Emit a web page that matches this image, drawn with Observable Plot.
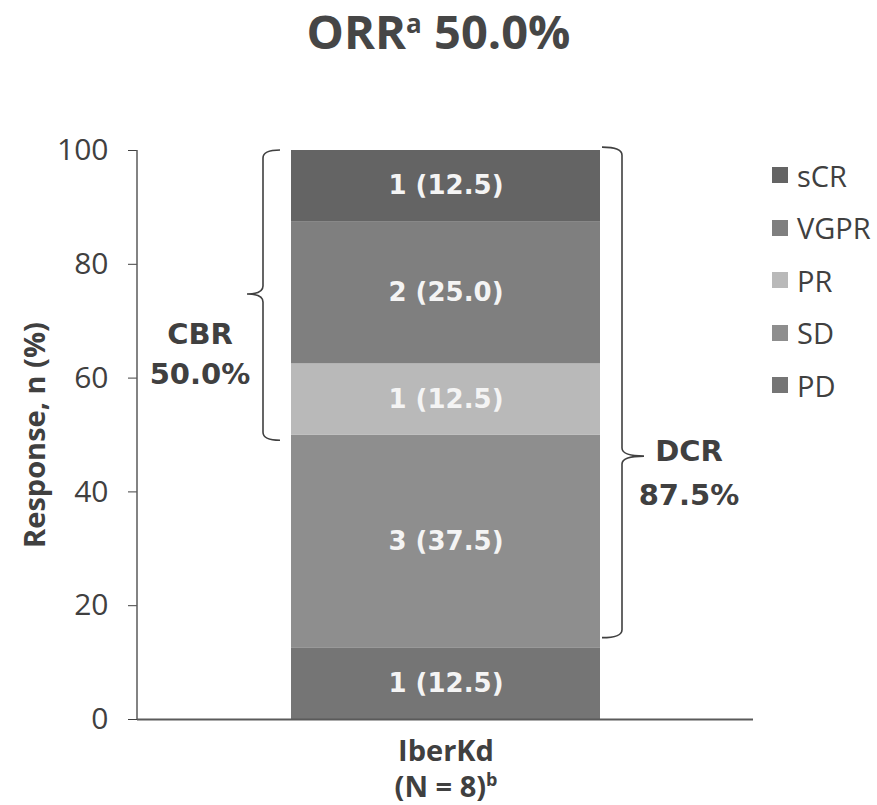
<!DOCTYPE html>
<html>
<head>
<meta charset="utf-8">
<script src="https://cdn.jsdelivr.net/npm/d3@7"></script>
<script src="https://cdn.jsdelivr.net/npm/@observablehq/plot@0.6"></script>
<style>
  body { margin: 0; background: #fff; }
  #wrap { position: relative; width: 877px; height: 805px; font-family: "Open Sans", sans-serif; color: #404040; }
  #title { position: absolute; top: 0; left: 0; width: 877px; height: 80px; text-align: center;
           font-weight: 700; font-size: 47px; line-height: 62px; color: #464646; }
  #title sup { font-size: 26px; vertical-align: 0; position: relative; top: -16px; }
  #chart { position: absolute; top: 80px; left: 0; }
  #legend { position: absolute; left: 772px; top: 149px; }
  .item { display: flex; align-items: center; height: 52.5px; font-size: 29px; color: #404040; }
  .sw { width: 16px; height: 16px; margin-right: 9px; }
</style>
</head>
<body>
<div id="wrap">
  <div id="title"></div>
  <div id="chart"></div>
  <div id="legend"></div>
</div>
<script>
// ---- data ----
const arm = "IberKd";
const armLines = ["IberKd", "(N = 8)"];
const armSup = "b";
const responses = ["PD", "SD", "PR", "VGPR", "sCR"];      // stacked bottom -> top
const counts = [1, 3, 1, 2, 1];
const percents = [12.5, 37.5, 12.5, 25.0, 12.5];
const colors = ["#757575", "#8e8e8e", "#b9b9b9", "#7f7f7f", "#646464"];
const legendOrder = ["sCR", "VGPR", "PR", "SD", "PD"];
const yTicks = [0, 20, 40, 60, 80, 100];
const titleMain = "ORR";
const titleSup = "a";
const titleValue = "50.0%";
const yLabel = "Response, n (%)";
// brackets
const braceSide = ["left", "right"];
const braceText = ["CBR\n50.0%", "DCR\n87.5%"];
const braceLow = [49, 14.3];
const braceHigh = [100, 100.5];
const braceTip = [74.7, 46.2];
const braceLabelY = [64.3, 43.3];

// ---- title ----
document.getElementById("title").innerHTML =
  `${titleMain}<sup>${titleSup}</sup> ${titleValue}`;

// ---- legend ----
const legend = document.getElementById("legend");
for (const r of legendOrder) {
  const it = document.createElement("div");
  it.className = "item";
  const sw = document.createElement("div");
  sw.className = "sw";
  sw.style.background = colors[responses.indexOf(r)];
  const lb = document.createElement("span");
  lb.textContent = r;
  it.appendChild(sw); it.appendChild(lb);
  legend.appendChild(it);
}

const data = responses.map((r, i) => ({arm, response: r, n: counts[i], pct: percents[i]}));
const braces = braceSide.map((s, i) => ({side: s, text: braceText[i], lo: braceLow[i], hi: braceHigh[i], tip: braceTip[i], ly: braceLabelY[i]}));

const ink = "#404040";

function bracesMark(index, scales, values, dimensions) {
  const x = scales.x, y = scales.y;
  const bw = typeof x.bandwidth === "function" ? x.bandwidth() : 309;
  const bl = x(arm), br = bl + bw;
  const g = d3.create("svg:g");
  // y axis line
  g.append("line")
    .attr("x1", dimensions.marginLeft).attr("x2", dimensions.marginLeft)
    .attr("y1", y(0)).attr("y2", y(100))
    .attr("stroke", "#5a5a5a").attr("stroke-width", 1.5);
  for (const b of braces) {
    const left = b.side === "left";
    const vx = left ? bl - 28 : br + 22;
    const hx = left ? bl - 11 : br + 2;
    const tx = left ? bl - 44 : br + 44;
    const yt = y(b.hi), yb = y(b.lo), ym = y(b.tip);
    const r = 8;
    const p = d3.path();
    p.moveTo(hx, yt);
    p.quadraticCurveTo(vx, yt, vx, yt + r);
    p.lineTo(vx, ym - r);
    p.quadraticCurveTo(vx, ym, tx, ym);
    p.moveTo(tx, ym);
    p.quadraticCurveTo(vx, ym, vx, ym + r);
    p.lineTo(vx, yb - r);
    p.quadraticCurveTo(vx, yb, hx, yb);
    g.append("path").attr("d", p.toString()).attr("fill", "none")
      .attr("stroke", ink).attr("stroke-width", 1.6);
    const cx = left ? bl - 91 : br + 89;
    const lines = b.text.split("\n");
    const t = g.append("text")
      .attr("text-anchor", "middle")
      .attr("font-family", "'DejaVu Sans', sans-serif")
      .attr("font-weight", "bold").attr("font-size", 29)
      .attr("fill", ink);
    lines.forEach((ln, i) => {
      t.append("tspan").attr("x", cx)
        .attr("y", y(b.ly) + (i - (lines.length - 1) / 2) * (left ? 40 : 44))
        .attr("dy", "0.36em").text(ln);
    });
  }
  return g.node();
}

const chart = Plot.plot({
  width: 877,
  height: 725,
  marginTop: 70,
  marginBottom: 86,
  marginLeft: 137,
  marginRight: 124,
  style: {fontFamily: "'Open Sans', sans-serif", fontSize: "30px", color: ink, background: "transparent", overflow: "visible"},
  x: {domain: [arm], padding: 0.332, axis: null},
  y: {domain: [0, 100], ticks: yTicks, tickSize: 9, tickPadding: 20, label: null},
  color: {domain: responses, range: colors},
  marks: [
    Plot.barY(data, {x: "arm", y: "pct", fill: "response"}),
    Plot.text(data, Plot.stackY({
      x: "arm", y: "pct",
      text: d => `${d.n} (${d.pct.toFixed(1)})`,
      fill: "#f4f4f4", fontWeight: "bold", fontSize: 26,
      fontFamily: "'DejaVu Sans', sans-serif"
    })),
    Plot.ruleY([0], {stroke: "#5a5a5a", strokeWidth: 2}),
    Plot.text([arm], {
      x: d => d, text: () => armLines.join("\n"),
      frameAnchor: "bottom", lineAnchor: "top", dy: 16, lineHeight: 1.24,
      fontWeight: "bold", fontSize: 29, fill: ink
    }),
    Plot.text([yLabel], {
      frameAnchor: "left", textAnchor: "middle", rotate: -90, dx: -102,
      fontWeight: "bold", fontSize: 29, fill: ink
    }),
    bracesMark
  ]
});
document.getElementById("chart").appendChild(chart);

// superscript after the arm label
for (const ts of chart.querySelectorAll("tspan")) {
  if (ts.textContent === armLines[armLines.length - 1]) {
    const sup = document.createElementNS("http://www.w3.org/2000/svg", "tspan");
    sup.setAttribute("font-size", "18");
    sup.setAttribute("dy", "-11");
    sup.textContent = armSup;
    ts.parentNode.appendChild(sup);
  }
}
</script>
</body>
</html>
